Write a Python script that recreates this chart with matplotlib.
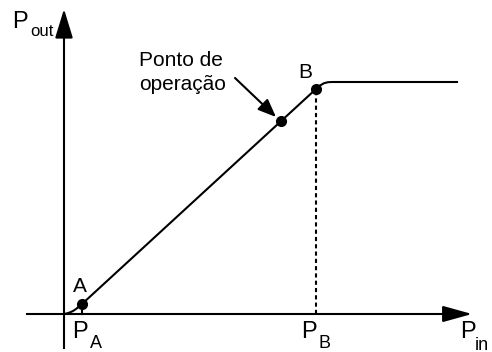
import numpy as np
import matplotlib.pyplot as plt

# transfer curve (P_in, P_out) in pixel-like units
p_in = [0, 3, 6, 9, 12, 15, 18, 252, 256, 260, 264, 268, 393]
p_out = [0, 0.6, 1.6, 3.0, 5.0, 7.4, 10, 225, 228.5, 230.8, 231.8, 232, 232]

# marked points
pt_A = (18, 10)
pt_B = (252, 225)
pt_op = (217, 193)

plt.rcParams['font.family'] = ['Liberation Sans', 'DejaVu Sans']

fig = plt.figure(figsize=(4.92, 3.52), dpi=100)
ax = fig.add_axes([0, 0, 1, 1])
ax.set_xlim(-64, 428)
ax.set_ylim(-38, 314)
ax.axis("off")

lw = 1.5
# axes with arrow heads
ax.plot([-37, 390], [0, 0], color="black", lw=lw)
ax.plot([0, 0], [-34, 285], color="black", lw=lw)
ax.annotate("", xy=(408, 0), xytext=(378, 0),
            arrowprops=dict(arrowstyle="-|>,head_length=1.8,head_width=0.5",
                            color="black", lw=lw, shrinkA=0, shrinkB=0))
ax.annotate("", xy=(0, 305), xytext=(0, 275),
            arrowprops=dict(arrowstyle="-|>,head_length=1.8,head_width=0.55",
                            color="black", lw=lw, shrinkA=0, shrinkB=0))

# curve
ax.plot(p_in, p_out, color="black", lw=lw)
ax.plot([pt_A[0], pt_A[0]], [0, pt_A[1]], color="black", lw=lw)
ax.plot([pt_B[0], pt_B[0]], [0, pt_B[1]], color="black", lw=lw, ls=(0, (2, 1.5)))

for p in (pt_A, pt_B, pt_op):
    ax.plot(p[0], p[1], "o", color="black", ms=7)

# annotation arrow
ax.annotate("", xy=(pt_op[0] - 5, pt_op[1] + 4), xytext=(171, 236),
            arrowprops=dict(arrowstyle="-|>,head_length=1.1,head_width=0.45",
                            color="black", lw=lw, shrinkA=0, shrinkB=0))

big = 17
fs = 15
sub = 13
ax.text(-44, 292, "P", fontsize=big, ha="center", va="center")
ax.text(-34, 283, "out", fontsize=12, ha="left", va="center")
ax.text(16, 28, "A", fontsize=fs, ha="center", va="center")
ax.text(16, -18, "P", fontsize=big, ha="center", va="center")
ax.text(32, -29, "A", fontsize=sub, ha="center", va="center")
ax.text(241, 242, "B", fontsize=fs, ha="center", va="center")
ax.text(245, -18, "P", fontsize=big, ha="center", va="center")
ax.text(261, -30, "B", fontsize=sub, ha="center", va="center")
ax.text(404, -18, "P", fontsize=big, ha="center", va="center")
ax.text(411, -31, "in", fontsize=sub, ha="left", va="center")
ax.text(75, 253, "Ponto de", fontsize=15, ha="left", va="center")
ax.text(75, 229, "operação", fontsize=15, ha="left", va="center")

fig.savefig("out.png", dpi=100)
